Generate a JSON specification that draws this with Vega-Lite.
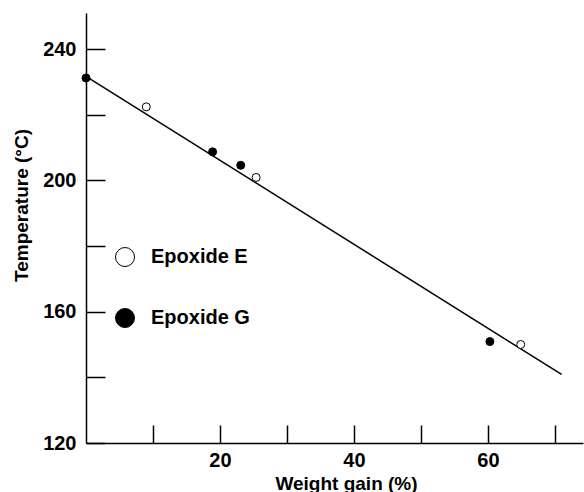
{
  "$schema": "https://vega.github.io/schema/vega-lite/v6.json",
  "width": 497,
  "height": 430,
  "autosize": {"type": "none"},
  "padding": {"left": 86, "top": 13, "right": 1, "bottom": 49},
  "background": "white",
  "config": {
    "view": {"stroke": null},
    "font": "Liberation Sans",
    "axis": {
      "domainColor": "black",
      "domainWidth": 1.5,
      "tickColor": "black",
      "tickWidth": 1.5,
      "grid": false,
      "labelFont": "Liberation Sans",
      "labelFontWeight": "bold",
      "labelFontSize": 20,
      "labelColor": "black",
      "titleFont": "Liberation Sans",
      "titleFontWeight": "bold",
      "titleFontSize": 19,
      "titleColor": "black"
    }
  },
  "datasets": {
    "points": [
      {"gain": 0, "temp": 231.2, "series": "Epoxide G"},
      {"gain": 18.9, "temp": 208.7, "series": "Epoxide G"},
      {"gain": 23.1, "temp": 204.6, "series": "Epoxide G"},
      {"gain": 60.3, "temp": 150.9, "series": "Epoxide G"},
      {"gain": 9.0, "temp": 222.4, "series": "Epoxide E"},
      {"gain": 25.4, "temp": 200.9, "series": "Epoxide E"},
      {"gain": 64.9, "temp": 150.0, "series": "Epoxide E"}
    ],
    "fit": [
      {"gain": 0, "temp": 231.7},
      {"gain": 71, "temp": 140.9}
    ]
  },
  "layer": [
    {
      "data": {"name": "fit"},
      "mark": {"type": "line", "color": "black", "strokeWidth": 1.5},
      "encoding": {
        "x": {
          "field": "gain", "type": "quantitative",
          "scale": {"domain": [0, 74.2], "nice": false, "zero": false},
          "axis": {
            "title": "Weight gain (%)",
            "values": [10, 20, 30, 40, 50, 60, 70],
            "labelExpr": "datum.value % 20 === 0 ? datum.label : ''",
            "tickSize": -18,
            "labelPadding": 25,
            "titleX": 260,
            "titleY": 31
          }
        },
        "y": {
          "field": "temp", "type": "quantitative",
          "scale": {"domain": [120, 251], "nice": false, "zero": false},
          "axis": {
            "title": "Temperature (°C)",
            "values": [120, 140, 160, 180, 200, 220, 240],
            "labelExpr": "datum.value % 40 === 0 ? datum.label : ''",
            "tickSize": -19,
            "labelPadding": 29,
            "titleX": -55,
            "titleY": 192
          }
        }
      }
    },
    {
      "data": {"name": "points"},
      "mark": {"type": "point", "shape": "circle", "filled": true, "size": 64, "stroke": "black", "strokeWidth": 1, "opacity": 1},
      "encoding": {
        "x": {"field": "gain", "type": "quantitative"},
        "y": {"field": "temp", "type": "quantitative"},
        "fill": {
          "field": "series", "type": "nominal",
          "scale": {"domain": ["Epoxide E", "Epoxide G"], "range": ["white", "black"]},
          "legend": {
            "title": null,
            "orient": "none",
            "legendX": 29,
            "legendY": 234,
            "padding": 0,
            "symbolType": "circle",
            "symbolSize": 361,
            "symbolStrokeColor": "black",
            "symbolStrokeWidth": 1,
            "symbolOpacity": 1,
            "rowPadding": 37,
            "labelOffset": 16,
            "labelFont": "Liberation Sans",
            "labelFontWeight": "bold",
            "labelFontSize": 20,
            "labelColor": "black"
          }
        }
      }
    }
  ]
}
